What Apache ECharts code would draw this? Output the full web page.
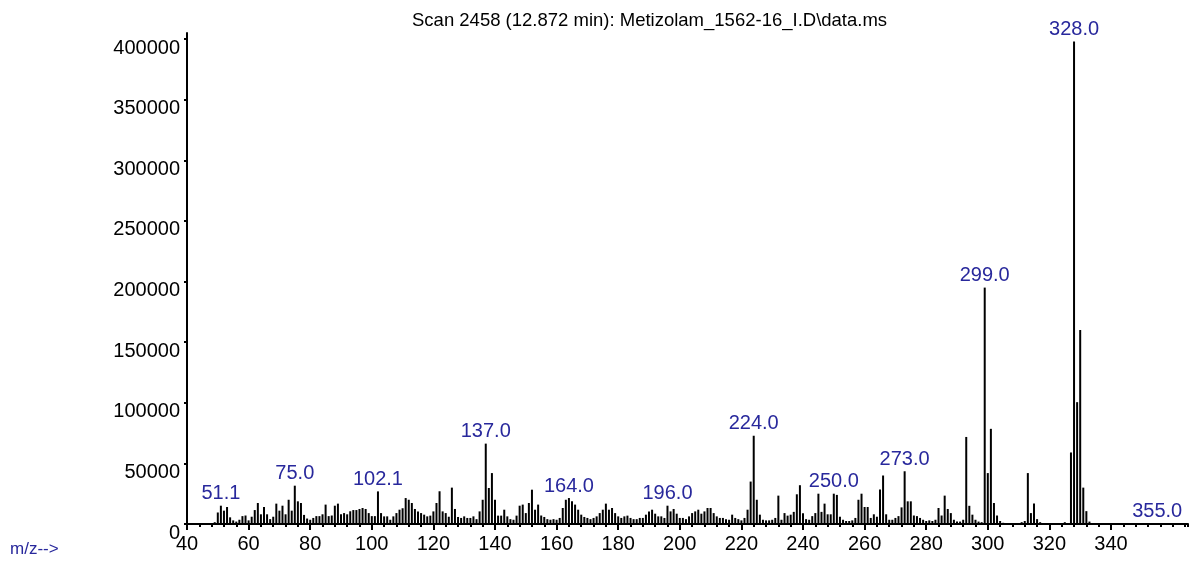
<!DOCTYPE html>
<html>
<head>
<meta charset="utf-8">
<script src="https://cdn.jsdelivr.net/npm/echarts@6/dist/echarts.min.js"></script>
<style>
html,body{margin:0;padding:0;background:#fff;}
#chart{width:1193px;height:571px;}
</style>
</head>
<body>
<div id="chart"></div>
<script>
const titleText = "Scan 2458 (12.872 min): Metizolam_1562-16_I.D\\data.ms";
const xAxisName = "m/z-->";

const mz = [
49,50,51,52,53,54,55,56,57,58,59,60,61,62,63,64,65,66,67,68,69,70,71,72,73,74,75,76,77,78,79,
80,81,82,83,84,85,86,87,88,89,90,91,92,93,94,95,96,97,98,99,100,101,102,103,104,105,106,107,108,109,
110,111,112,113,114,115,116,117,118,119,120,121,122,123,124,125,126,127,128,129,130,131,132,133,134,135,136,137,138,139,
140,141,142,143,144,145,146,147,148,149,150,151,152,153,154,155,156,157,158,159,160,161,162,163,164,165,166,167,168,169,
170,171,172,173,174,175,176,177,178,179,180,181,182,183,184,185,186,187,188,189,190,191,192,193,194,195,196,197,198,199,
200,201,202,203,204,205,206,207,208,209,210,211,212,213,214,215,216,217,218,219,220,221,222,223,224,225,226,227,228,229,
230,231,232,233,234,235,236,237,238,239,240,241,242,243,244,245,246,247,248,249,250,251,252,253,254,255,256,257,258,259,
260,261,262,263,264,265,266,267,268,269,270,271,272,273,274,275,276,277,278,279,280,281,282,283,284,285,286,287,288,289,
290,291,292,293,294,295,296,297,298,299,300,301,302,303,304,305,
311,312,313,314,315,316,317,
325,327,328,329,330,331,332,333,
355
];

const intensity = [
1500,9500,15100,11000,14000,5500,3000,2000,3500,6500,7000,3000,6000,11500,17300,8000,14000,8000,4000,6000,16800,11000,15100,8000,20000,11000,31600,18700,17300,7500,4500,
3500,5000,6500,6500,8000,16000,6500,7000,15100,16800,8000,9000,8000,10500,11500,11500,12400,13200,12400,9000,6500,6500,26900,9000,6300,6300,3500,6300,9000,11800,
13000,21400,20000,17300,12400,10400,9000,7700,6300,6900,10400,17300,27000,10400,9000,6000,30000,12400,5800,5000,6300,5000,5000,6300,4000,10400,20000,66300,29700,42000,
20000,6900,6900,11800,6300,4000,3500,6900,15100,16000,9000,17300,28300,11800,16000,7000,5800,4000,3500,4000,3500,5000,13200,20000,21400,18700,16000,11800,7700,5800,
5000,4000,5000,6300,9000,11800,16800,11800,13200,9000,6300,5000,6300,6900,5000,4000,4000,5000,5000,7700,10400,11800,8500,6300,6300,5000,15100,10400,12400,8500,
5000,5000,4000,6300,9000,10400,11800,8500,10400,13200,13200,9000,6300,5000,5000,4000,3500,7700,5000,4000,3000,5000,11800,35000,72800,20000,7700,3500,3000,3000,
3500,5000,23400,3500,9000,6900,7700,10000,24500,32000,8800,4000,3500,6500,9000,25000,10000,16800,8000,8000,25000,24000,6000,3500,2500,2500,3000,5000,20000,25000,
14000,14000,5000,8000,6000,28500,40000,8000,3500,3500,5000,6500,13700,43500,18700,18700,7000,6500,5000,3500,2500,3000,2500,3500,13200,7000,23400,12400,9000,3500,
2000,2000,3500,71800,15000,7700,3500,2000,1500,195000,42000,78500,17300,7000,2500,1000,
1500,2500,42000,9000,17000,4000,1500,
1500,59000,398000,100500,160000,30000,10600,2000,
500
];

const labelMz = [51, 75, 102, 137, 164, 196, 224, 250, 273, 299, 328, 355];
const labelText = ["51.1", "75.0", "102.1", "137.0", "164.0", "196.0", "224.0", "250.0", "273.0", "299.0", "328.0", "355.0"];

const yTicks = [0, 50000, 100000, 150000, 200000, 250000, 300000, 350000, 400000];
const xTicks = [40, 60, 80, 100, 120, 140, 160, 180, 200, 220, 240, 260, 280, 300, 320, 340];

const FONT = "'Liberation Sans', Arial, sans-serif";
const BLUE = '#28289c';

const seriesData = mz.map(function (m, i) {
  const k = labelMz.indexOf(m);
  if (k >= 0) {
    return {
      value: [m, intensity[i]],
      label: { show: true, formatter: labelText[k] }
    };
  }
  return { value: [m, intensity[i]] };
});

const chart = echarts.init(document.getElementById('chart'), null, { renderer: 'canvas' });
chart.setOption({
  animation: false,
  backgroundColor: '#fff',
  title: {
    text: titleText,
    left: 407,
    top: 6,
    textStyle: { fontFamily: FONT, fontSize: 18.5, fontWeight: 'normal', color: '#000' }
  },
  graphic: [{
    type: 'text',
    left: 10,
    top: 541,
    style: { text: xAxisName, fontFamily: FONT, fontSize: 17, fill: BLUE }
  }],
  grid: { left: 187, right: 5, top: 33, height: 491, containLabel: false },
  xAxis: [{
    type: 'value',
    min: 40,
    max: 365,
    interval: 20,
    axisLine: { show: true, lineStyle: { color: '#000', width: 2 } },
    axisTick: { show: true, length: 6, customValues: xTicks, lineStyle: { color: '#000', width: 2 } },
    axisLabel: {
      customValues: xTicks,
      formatter: function (v) { return String(v); },
      fontFamily: FONT, fontSize: 20, color: '#000', margin: 10, lineHeight: 20
    },
    splitLine: { show: false }
  }, {
    type: 'value',
    position: 'bottom',
    min: 40,
    max: 365,
    interval: 4,
    axisLine: { show: false },
    axisTick: { show: true, length: 3, lineStyle: { color: '#000', width: 2 } },
    axisLabel: { show: false },
    splitLine: { show: false }
  }],
  yAxis: {
    type: 'value',
    min: 0,
    max: 405000,
    interval: 50000,
    axisLine: { show: true, lineStyle: { color: '#000', width: 2 } },
    axisTick: { show: true, length: 3, customValues: yTicks, lineStyle: { color: '#000', width: 2 } },
    axisLabel: {
      customValues: yTicks,
      formatter: function (v) { return String(v); },
      fontFamily: FONT, fontSize: 20, color: '#000', margin: 7,
      verticalAlign: 'top', lineHeight: 18
    },
    splitLine: { show: false }
  },
  series: [{
    type: 'bar',
    xAxisIndex: 0,
    barWidth: 2,
    itemStyle: { color: '#000' },
    label: {
      show: false,
      position: 'top',
      distance: 2,
      fontFamily: FONT,
      fontSize: 20,
      lineHeight: 20,
      color: BLUE
    },
    emphasis: { disabled: true },
    data: seriesData
  }]
});
</script>
</body>
</html>
